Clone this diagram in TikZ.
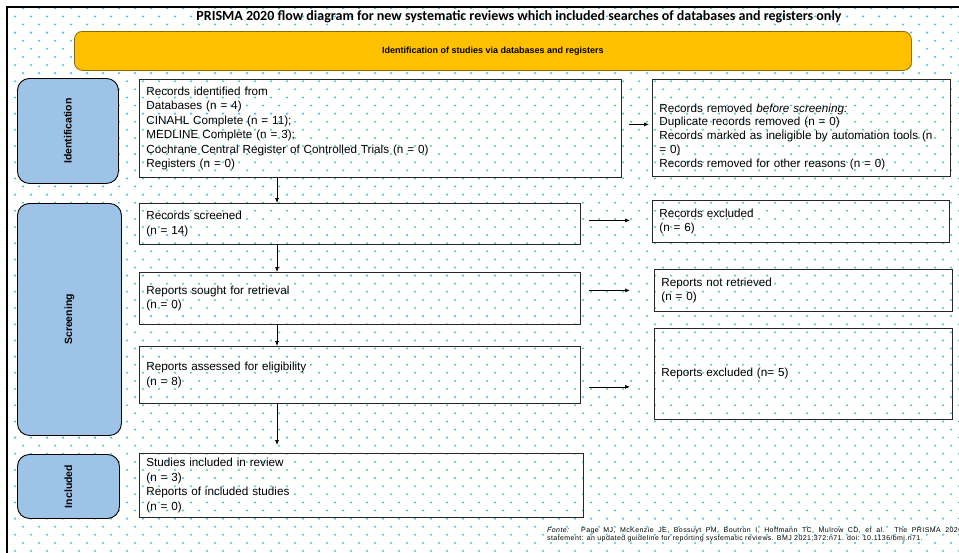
\documentclass[tikz,border=0pt]{standalone}
\usepackage{fontspec}
\setmainfont{Liberation Sans}
\newfontfamily\titlefont{Carlito}
\usetikzlibrary{arrows.meta}

\definecolor{dotcyan}{HTML}{4CC2E4}
\definecolor{phaseblue}{HTML}{9DC3E6}
\definecolor{bandyellow}{HTML}{FFC000}
\definecolor{bandedge}{HTML}{8C6A00}
\definecolor{boxedge}{HTML}{262626}

\begin{document}
\begin{tikzpicture}[x=1pt,y=-1pt,
  phase/.style={draw=black, line width=0.9pt, fill=phaseblue, rounded corners=12pt,
    anchor=north west, inner sep=0pt},
  phaselabel/.style={font=\bfseries\fontsize{10.5}{12}\selectfont, rotate=90},
  stage/.style={draw=boxedge, line width=0.8pt, anchor=north west, align=left,
    inner xsep=7pt, inner ysep=0pt, font=\fontsize{11.7}{14.5}\selectfont},
  arr/.style={-{Latex[length=5pt,width=4pt]}, line width=0.7pt, black},
  band/.style={draw=bandedge, line width=0.8pt, fill=bandyellow, rounded corners=8pt,
    anchor=north west, inner sep=0pt, font=\bfseries\fontsize{9}{10}\selectfont}
]
% page
\useasboundingbox (0,0) rectangle (959,552);
\fill[white] (0,0) rectangle (959,552);

% dotted background
\foreach \r in {0,...,67}{
  \foreach \c in {0,...,59}{
    \fill[dotcyan] ({7+16*\c+8*mod(\r,2)},{8.3+8.1*\r}) circle (1.15pt);
  }
}

% title and phase band
\node[font=\titlefont\bfseries\fontsize{14}{16}\selectfont] (title) at (519,17)
  {PRISMA 2020 flow diagram for new systematic reviews which included searches of databases and registers only};
\node[band, minimum width=837pt, minimum height=39pt] (band) at (74,31)
  {Identification of studies via databases and registers};

% phase boxes
\node[phase, minimum width=101pt, minimum height=105pt] (idbox) at (17,78) {};
\node[phaselabel] (idlab) at (idbox.center) {Identification};
\node[phase, minimum width=104pt, minimum height=232pt] (scbox) at (17,203) {};
\node[phaselabel] (sclab) at (scbox.center) {Screening};
\node[phase, minimum width=102pt, minimum height=64pt] (inbox) at (17,454) {};
\node[phaselabel] (inlab) at (inbox.center) {Included};

% main column
\node[stage, text width=468pt, minimum height=98pt] (rid) at (139,79)
  {Records identified from\\Databases (n = 4)\\CINAHL Complete (n = 11);\\MEDLINE Complete (n = 3);\\Cochrane Central Register of Controlled Trials (n = 0)\\Registers (n = 0)};
\node[stage, text width=427pt, minimum height=41pt] (scr) at (139,203)
  {Records screened\\(n = 14)};
\node[stage, text width=427pt, minimum height=52pt] (srt) at (139,272)
  {Reports sought for retrieval\\(n = 0)};
\node[stage, text width=427pt, minimum height=57pt] (ass) at (139,346)
  {Reports assessed for eligibility\\(n = 8)};
\node[stage, text width=430pt, minimum height=64pt] (inc) at (139,453)
  {Studies included in review\\(n = 3)\\Reports of included studies\\(n = 0)};

% side column
\node[stage, text width=284pt, minimum height=97pt,
  font=\fontsize{11.7}{13.8}\selectfont] (rrm) at (652,79)
  {\rule{0pt}{26pt}Records removed \textit{before screening:}\\Duplicate records removed (n = 0)\\Records marked as ineligible by automation tools (n\\= 0)\\Records removed for other reasons (n = 0)};
\node[stage, text width=283pt, minimum height=42pt] (rex) at (652,200)
  {Records excluded\\(n = 6)};
\node[stage, text width=284pt, minimum height=42pt] (nrt) at (654,269)
  {Reports not retrieved\\(n = 0)};
\node[stage, text width=284pt, minimum height=91pt] (rexc) at (654,328)
  {Reports excluded (n= 5)};

% flow
\coordinate (spine) at (277,0);
\draw[arr] (rid.south -| spine) -- (scr.north -| spine);
\draw[arr] (scr.south -| spine) -- (srt.north -| spine);
\draw[arr] (srt.south -| spine) -- (ass.north -| spine);
\draw[arr, shorten >=8pt] (ass.south -| spine) -- (inc.north -| spine);

\draw[arr, shorten <=7pt, shorten >=3pt] ([yshift=4pt]rid.east) -- ([yshift=4pt]rid.east -| rrm.west);
\draw[arr, shorten <=8pt, shorten >=22pt] ([yshift=1pt]rex.west -| scr.east) -- ([yshift=1pt]rex.west);
\draw[arr, shorten <=8pt, shorten >=24pt] (nrt.west -| srt.east) -- (nrt.west);
\draw[arr, shorten <=8pt, shorten >=24pt] ([yshift=-12pt]ass.east) -- ([yshift=-12pt]ass.east -| rexc.west);

% source note
\node[anchor=north west, inner sep=0pt, text width=415pt, align=justify,
  font=\addfontfeature{LetterSpace=6}\fontsize{7}{7.8}\selectfont] (source) at (547,527)
  {\textit{Fonte:}\hspace{4pt} Page MJ, McKenzie JE, Bossuyt PM, Boutron I, Hoffmann TC, Mulrow CD, et al. The PRISMA 2020\linebreak statement: an updated guideline for reporting systematic reviews. BMJ 2021;372:n71. doi: 10.1136/bmj.n71.};

% frame
\draw[line width=2.5pt] (7,560) -- (7,7) -- (965,7);
\end{tikzpicture}
\end{document}
